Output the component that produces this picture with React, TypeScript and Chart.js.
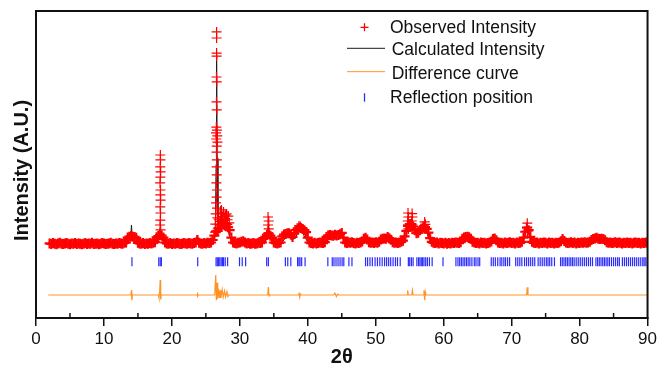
import { useEffect, useRef } from "react";
import { Chart, registerables } from "chart.js";

Chart.register(...registerables);

const FONT = "'Liberation Sans', Arial, Helvetica, sans-serif";

// ---- axis / labels ----
const xTitle = "2θ";
const yTitle = "Intensity (A.U.)";
const xMin = 0;
const xMax = 90;
const xMajorStep = 10;
const xMinorTicks = [5, 15, 25, 35, 45, 55, 65, 75, 85];
const legendLabels = ["Observed Intensity", "Calculated Intensity", "Difference curve", "Reflection position"];

// ---- observed intensity: measured on a 0.25° grid starting at 2° ----
const obsStart = 2;
const obsStep = 0.25;
const obsBase = [
  24.3, 24.1, 24.4, 24.2, 24.0, 24.3, 24.5, 24.2, 24.1, 24.3, 24.4, 24.2, 24.0, 24.3, 24.2, 24.4, 24.1, 24.3, 24.2, 24.0,
  24.2, 24.4, 24.1, 24.3, 24.2, 24.5, 24.1, 24.2, 24.3, 24.0, 24.2, 24.4, 24.3, 24.1, 24.2, 24.3, 24.5, 24.2, 24.1, 24.3,
  24.2, 24.4, 24.3, 24.2, 24.5, 24.6, 26.2, 26.5, 26.6, 26.5, 26.4, 26.1, 24.5, 24.3, 24.2, 24.4, 24.1, 24.3, 24.2, 24.4,
  24.3, 24.5, 24.7, 26.3, 26.7, 27.0, 26.8, 26.2, 24.6, 24.3, 24.2, 24.4, 24.1, 24.3, 24.2, 24.4, 24.3, 24.1, 24.2, 24.4,
  24.3, 24.2, 24.4, 24.3, 24.2, 24.4, 24.6, 25.4, 24.5, 24.3, 24.2, 24.4, 24.3, 24.5, 24.4, 24.6, 25.4, 26.8, 28.2, 28.4,
  29.2, 30.3, 31.0, 30.2, 30.6, 29.6, 28.6, 26.2, 24.6, 24.4, 24.3, 24.5, 24.6, 24.8, 25.0, 24.6, 24.3, 24.4, 24.2, 24.3,
  24.4, 24.2, 24.3, 24.5, 24.4, 24.6, 26.0, 26.4, 27.0, 27.3, 26.8, 26.2, 24.6, 24.4, 24.3, 24.5, 24.6, 26.6, 27.2, 27.4,
  27.6, 27.6, 27.2, 26.4, 27.5, 28.6, 29.2, 29.4, 29.3, 29.0, 28.6, 28.0, 26.2, 24.6, 24.4, 24.3, 24.5, 24.3, 24.4, 24.6,
  24.5, 24.4, 24.7, 26.4, 26.9, 27.0, 26.9, 26.8, 27.1, 26.9, 27.0, 27.3, 27.7, 26.2, 24.6, 24.4, 24.6, 24.5, 24.7, 24.4,
  24.3, 24.5, 24.4, 24.6, 24.9, 25.8, 26.1, 25.6, 24.7, 24.5, 24.6, 24.4, 24.7, 24.5, 24.8, 25.6, 25.8, 25.9, 25.8, 26.4,
  26.0, 25.5, 24.7, 24.5, 24.6, 24.4, 24.6, 24.8, 25.2, 26.6, 28.4, 30.0, 30.6, 30.6, 29.8, 28.6, 27.6, 27.8, 28.6, 29.1,
  29.6, 29.6, 29.0, 27.8, 26.0, 24.8, 24.5, 24.4, 24.6, 24.3, 24.5, 24.4, 24.3, 24.5, 24.2, 24.4, 24.3, 24.5, 24.4, 24.6,
  24.5, 24.4, 24.7, 25.8, 26.2, 26.4, 26.5, 26.3, 25.8, 24.8, 24.6, 24.4, 24.5, 24.3, 24.6, 24.4, 24.5, 24.3, 24.4, 24.6,
  24.9, 25.7, 25.9, 25.3, 24.6, 24.4, 24.5, 24.3, 24.6, 24.4, 24.5, 24.7, 24.4, 24.5, 24.3, 24.6, 24.4, 24.5, 24.8, 26.2,
  28.1, 29.4, 28.6, 26.4, 24.8, 24.5, 24.4, 24.6, 24.3, 24.5, 24.4, 24.6, 24.5, 24.3, 24.6, 24.4, 24.5, 24.3, 24.5, 24.4,
  24.6, 25.0, 25.7, 25.1, 24.6, 24.4, 24.5, 24.7, 24.4, 24.6, 24.3, 24.5, 24.4, 24.6, 24.5, 24.7, 24.5, 24.6, 24.8, 25.4,
  25.7, 25.9, 26.1, 25.8, 25.7, 25.8, 25.7, 25.3, 24.7, 24.5, 24.6, 24.4, 24.5, 24.7, 24.4, 24.6, 24.5, 24.3, 24.5, 24.4,
  24.6, 24.4, 24.5, 24.3, 24.5, 24.6, 24.4, 24.5, 24.3, 24.5, 24.4, 24.6, 24.4,
];

// observed points measured finely across the sharp peaks: [2θ, intensity]
const obsPeaks: [number, number][] = [
  // 26.6°
  [26.58, 93.2], [26.58, 91.2], [26.58, 86.3], [26.58, 85.3], [26.56, 78.5], [26.6, 76.9], [26.56, 70.4], [26.6, 67.8],
  [26.54, 62.2], [26.62, 61.2], [26.5, 60.3], [26.68, 59.3], [26.52, 58.3], [26.7, 57.3], [26.6, 56.0], [26.56, 54.0],
  [26.62, 51.5], [26.58, 49.2], [26.6, 46.6], [26.55, 44.0], [26.62, 41.7], [26.58, 39.4], [26.5, 37.5], [26.65, 35.8],
  [26.45, 33.9], [26.7, 32.6], [26.4, 30.6], [26.75, 29.3], [26.35, 28.0],
  // 27–28.5°
  [26.9, 32.0], [27.0, 30.5], [27.1, 31.5], [27.2, 34.0], [27.3, 35.2], [27.45, 33.0], [27.5, 31.8], [27.6, 34.5],
  [27.75, 32.5], [27.9, 33.5], [28.05, 33.9], [28.15, 30.5], [28.2, 32.0], [28.3, 33.2], [28.45, 31.0],
  // 18.3°
  [18.3, 53.1], [18.32, 51.5], [18.28, 49.2], [18.34, 47.6], [18.3, 45.9], [18.26, 44.0], [18.32, 41.7], [18.3, 40.1],
  [18.34, 38.4], [18.28, 36.2], [18.32, 34.2], [18.3, 31.9], [18.26, 30.3], [18.34, 28.7],
  // 34.2°
  [34.15, 32.9], [34.25, 31.6], [34.15, 30.3], [34.25, 29.0], [34.2, 27.7],
  // 38.8°
  [38.7, 30.0], [38.9, 29.8],
  // 55°
  [54.75, 34.2], [55.35, 34.0], [54.8, 32.9], [55.4, 32.9], [54.7, 31.6], [55.3, 31.6], [54.75, 30.3], [55.4, 30.3],
  [54.8, 29.0], [55.35, 29.0],
  // 57°
  [57.2, 31.3], [57.1, 30.0], [57.3, 30.5],
  // 72.3°
  [72.3, 30.9], [72.3, 29.6], [72.35, 28.3],
];

// ---- calculated intensity ----
const calcPts: [number, number][] = [
  [2, 24.3], [13.4, 24.4], [13.7, 25.2], [13.95, 26.5], [14.05, 30.3], [14.15, 26.5], [14.4, 25.6], [14.8, 24.5],
  [17.7, 24.5], [18.0, 26.0], [18.15, 28.0], [18.3, 29.5], [18.45, 27.0], [18.7, 25.0], [19.0, 24.4],
  [23.5, 24.4], [23.75, 27.0], [23.95, 24.4],
  [26.2, 25.0], [26.4, 30.0], [26.5, 50.0], [26.58, 85.0], [26.66, 52.0], [26.78, 32.0], [26.95, 29.0], [27.1, 31.5],
  [27.22, 36.5], [27.35, 31.0], [27.55, 32.5], [27.75, 30.0], [28.0, 31.5], [28.2, 29.5], [28.5, 26.5], [28.8, 24.6],
  [30.3, 24.5], [30.5, 25.3], [30.7, 24.5],
  [33.6, 24.8], [34.0, 26.5], [34.2, 30.5], [34.4, 26.5], [34.8, 24.7],
  [36.2, 24.6], [36.5, 25.5], [37.0, 27.3], [37.6, 25.5], [38.2, 26.0], [38.75, 29.5], [39.4, 27.0], [40.0, 24.7],
  [42.6, 24.6], [43.0, 25.5], [43.3, 26.5], [44.0, 26.8], [45.0, 27.3], [45.3, 25.0], [45.6, 24.5],
  [48.0, 24.5], [48.25, 25.2], [48.5, 26.5], [48.8, 25.0], [49.1, 24.5],
  [51.3, 24.6], [51.9, 26.2], [52.3, 24.8],
  [54.1, 24.6], [54.4, 25.5], [54.8, 30.5], [55.4, 30.3], [56.0, 27.0], [56.7, 28.8], [57.2, 29.8], [57.9, 25.5], [58.3, 24.6],
  [62.9, 24.6], [63.4, 26.2], [64.1, 24.7],
  [67.2, 24.6], [67.5, 25.6], [67.9, 24.6],
  [71.7, 24.6], [72.0, 27.5], [72.3, 29.0], [72.6, 27.0], [72.9, 24.6],
  [77.3, 24.6], [77.5, 25.5], [78.0, 24.6], [81.9, 24.6], [82.5, 25.8], [84.0, 24.6], [90, 24.4],
];

// ---- difference curve (offset) ----
const diffPts: [number, number][] = [
  [1.8, 7.5], [11.0, 7.5], [13.95, 7.5], [14.05, 9.0], [14.1, 5.8], [14.2, 7.5],
  [18.0, 7.5], [18.1, 6.5], [18.2, 8.6], [18.28, 12.4], [18.35, 6.0], [18.45, 7.5],
  [23.7, 7.5], [23.75, 8.3], [23.8, 7.2], [23.9, 7.5],
  [26.3, 7.5], [26.45, 14.0], [26.55, 5.8], [26.65, 11.5], [26.75, 6.3], [26.85, 9.5], [27.0, 6.5], [27.1, 9.0],
  [27.2, 6.5], [27.4, 9.2], [27.55, 6.8], [27.75, 8.8], [27.9, 6.8], [28.1, 8.6], [28.25, 7.0], [28.4, 7.5],
  [34.1, 7.5], [34.2, 10.1], [34.3, 7.2], [34.4, 7.5],
  [38.6, 7.5], [38.7, 8.3], [38.8, 6.8], [38.9, 7.8], [39.0, 7.5],
  [43.8, 7.5], [44.0, 8.1], [44.2, 7.0], [44.4, 7.8], [44.5, 7.5],
  [54.6, 7.5], [54.7, 9.0], [54.8, 7.5], [55.3, 7.5], [55.4, 9.0], [55.5, 7.5],
  [57.0, 7.5], [57.1, 9.0], [57.2, 5.8], [57.3, 8.5], [57.4, 7.5],
  [72.2, 7.5], [72.3, 10.0], [72.4, 7.5], [90, 7.5],
];

// ---- reflection positions (2θ) and the level they are marked at ----
const reflLevel = 18.3;
const reflPositions = [
  14.12, 18.07, 18.28, 18.45, 23.8,
  26.5, 26.68, 26.85, 27.05, 27.25, 27.45, 27.6, 27.85, 28.2,
  29.95, 30.35, 30.85,
  33.95, 34.2,
  36.7, 37.05, 37.5,
  38.5, 38.7, 38.85, 39.1, 39.6,
  42.95, 43.6, 43.85, 44.15, 44.45, 44.75, 45.05, 45.3,
  46.05, 46.5,
  48.5, 48.8, 49.15, 49.5, 49.9, 50.25, 50.6, 50.95, 51.3, 51.6, 51.9, 52.2, 52.55, 52.9, 53.2, 53.6,
  54.8, 55.0, 55.25, 55.5,
  56.05, 56.3, 56.5, 56.7, 56.9, 57.1, 57.35, 57.6, 57.9, 58.3,
  59.9,
  61.8, 62.1, 62.35, 62.6, 62.85, 63.1, 63.35, 63.6, 63.85, 64.15, 64.5, 64.75, 65.05, 65.3,
  67.0, 67.3, 67.6, 67.95, 68.3, 68.55, 68.85, 69.1, 69.4, 69.7,
  70.6, 70.9, 71.2, 71.5, 71.9, 72.2, 72.5, 72.8, 73.1, 73.4,
  73.9, 74.2, 74.5, 74.8, 75.1, 75.35, 75.6, 75.9, 76.3,
  77.2, 77.45, 77.7, 77.95, 78.2, 78.45, 78.7, 78.95, 79.2, 79.5, 79.8, 80.1, 80.4, 80.7, 81.0, 81.3, 81.6, 81.9,
  82.4, 82.65, 82.9, 83.15, 83.4, 83.65, 83.9, 84.15, 84.4, 84.7, 85.0, 85.3, 85.6, 85.85,
  86.3, 86.6, 86.9, 87.2, 87.5, 87.8, 88.1, 88.4, 88.7, 89.0, 89.3, 89.5, 89.75,
];

const RED = "#ff0000";
const BLACK = "#1a1a1a";
const ORANGE = "#ff9326";
const BLUE = "#2b2bff";

const decorPlugin = {
  id: "decor",
  afterDraw(chart: any) {
    const { ctx, chartArea: a, scales } = chart;
    const x = scales.x;
    ctx.save();
    // frame
    ctx.strokeStyle = "#111";
    ctx.lineWidth = 2;
    ctx.strokeRect(a.left, a.top, a.right - a.left, a.bottom - a.top);
    // minor inward ticks
    ctx.lineWidth = 1.5;
    for (const v of xMinorTicks) {
      const px = x.getPixelForValue(v);
      ctx.beginPath();
      ctx.moveTo(px, a.bottom);
      ctx.lineTo(px, a.bottom - 5);
      ctx.stroke();
    }
    // y title
    ctx.save();
    ctx.translate(22.5, 170.5);
    ctx.rotate(-Math.PI / 2);
    ctx.font = `bold 20px ${FONT}`;
    ctx.fillStyle = "#111";
    ctx.textAlign = "center";
    ctx.textBaseline = "middle";
    ctx.fillText(yTitle, 0, 0);
    ctx.restore();
    // legend
    ctx.font = `17.5px ${FONT}`;
    ctx.fillStyle = "#111";
    ctx.textAlign = "left";
    ctx.textBaseline = "alphabetic";
    const rows = [32.5, 55, 79.3, 103.3];
    const textX = [390, 391.7, 391.7, 390];
    ctx.strokeStyle = RED;
    ctx.lineWidth = 1.3;
    ctx.beginPath();
    ctx.moveTo(360.5, 27.3); ctx.lineTo(368.5, 27.3);
    ctx.moveTo(364.5, 23.3); ctx.lineTo(364.5, 31.3);
    ctx.stroke();
    ctx.strokeStyle = BLACK;
    ctx.lineWidth = 1;
    ctx.beginPath(); ctx.moveTo(347, 48.3); ctx.lineTo(385, 48.3); ctx.stroke();
    ctx.strokeStyle = ORANGE;
    ctx.beginPath(); ctx.moveTo(347, 71.7); ctx.lineTo(385, 71.7); ctx.stroke();
    ctx.strokeStyle = BLUE;
    ctx.lineWidth = 1.3;
    ctx.beginPath(); ctx.moveTo(364.5, 93.3); ctx.lineTo(364.5, 101.7); ctx.stroke();
    legendLabels.forEach((t, i) => ctx.fillText(t, textX[i], rows[i]));
    ctx.restore();
  },
};

export default function App() {
  const ref = useRef<HTMLCanvasElement>(null);
  useEffect(() => {
    const crossStyle = {
      showLine: false,
      pointStyle: "cross",
      pointRadius: 5,
      pointBorderColor: RED,
      pointBackgroundColor: RED,
      borderColor: RED,
      clip: { left: 8, right: 0, top: 8, bottom: 8 },
    };
    const chart = new Chart(ref.current!, {
      type: "scatter",
      data: {
        datasets: [
          {
            label: legendLabels[0],
            data: obsPeaks.map(([x, y]) => ({ x, y })),
            ...crossStyle,
            pointBorderWidth: 1.2,
          } as any,
          {
            label: legendLabels[0],
            data: obsBase.map((y, i) => ({ x: obsStart + i * obsStep, y })),
            ...crossStyle,
            pointBorderWidth: 2.2,
          } as any,
          {
            label: legendLabels[1],
            data: calcPts.map(([x, y]) => ({ x, y })),
            showLine: true,
            borderColor: BLACK,
            borderWidth: 1,
            pointRadius: 0,
          },
          {
            label: legendLabels[2],
            data: diffPts.map(([x, y]) => ({ x, y })),
            showLine: true,
            borderColor: ORANGE,
            borderWidth: 1.2,
            pointRadius: 0,
          },
          {
            label: legendLabels[3],
            data: reflPositions.map((x) => ({ x, y: reflLevel })),
            showLine: false,
            pointStyle: "line",
            rotation: 90,
            pointRadius: 4.5,
            pointBorderWidth: 1.2,
            pointBorderColor: BLUE,
            borderColor: BLUE,
          } as any,
        ],
      },
      options: {
        animation: false,
        responsive: true,
        maintainAspectRatio: false,
        events: [],
        layout: { padding: { left: 36, right: 10, top: 11, bottom: 0 } },
        plugins: { legend: { display: false }, tooltip: { enabled: false } },
        scales: {
          x: {
            type: "linear",
            min: xMin,
            max: xMax,
            ticks: { stepSize: xMajorStep, color: "#111", font: { size: 17, family: FONT }, padding: 3, maxRotation: 0, autoSkip: false },
            grid: { display: true, drawOnChartArea: false, drawTicks: true, tickLength: 8, color: "#111", lineWidth: 1.5 },
            border: { display: true, color: "#111", width: 2 },
            title: { display: true, text: xTitle, color: "#111", font: { size: 20, weight: "bold", family: FONT }, padding: { top: 0, bottom: 4.5 } },
            afterFit: (s: any) => { s.height = 56; },
          },
          y: { display: false, min: 0, max: 100 },
        },
      },
      plugins: [decorPlugin],
    });
    return () => chart.destroy();
  }, []);
  return (
    <div style={{ position: "absolute", left: 0, top: 0, width: 660, height: 374, background: "#fff" }}>
      <canvas ref={ref} />
    </div>
  );
}
